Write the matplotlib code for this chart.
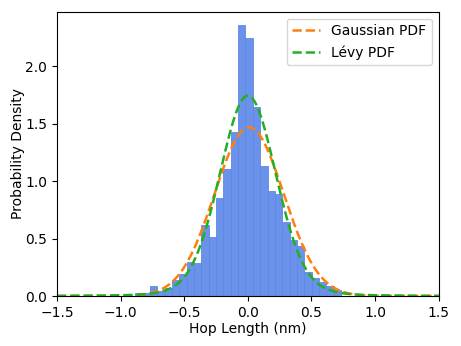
import numpy as np
import matplotlib
matplotlib.use("Agg")
import matplotlib.pyplot as plt

# histogram of hop lengths (density)
bin_start = -0.884
bin_width = 0.0577
density = [0.023, 0.025, 0.088, 0.044, 0.067, 0.14, 0.19, 0.30, 0.29, 0.62,
           0.51, 0.857, 1.11, 1.43, 2.36, 2.245, 1.65, 1.13, 0.915, 0.89,
           0.645, 0.485, 0.44, 0.205, 0.155, 0.125, 0.088, 0.05]

# fitted parameters
gauss_mu = 0.01
gauss_sigma = 0.2714
levy_alpha = 1.85
levy_scale = 0.162
levy_mu = 0.0

edges = bin_start + bin_width * np.arange(len(density) + 1)
x = np.linspace(-1.5, 1.5, 600)

gauss_pdf = np.exp(-0.5 * ((x - gauss_mu) / gauss_sigma) ** 2) / (gauss_sigma * np.sqrt(2 * np.pi))

# symmetric alpha-stable pdf by integrating the characteristic function
t = np.linspace(0, 80, 8001)
phi = np.exp(-(levy_scale * t) ** levy_alpha)
levy_pdf = np.trapezoid(phi[None, :] * np.cos(np.outer(x - levy_mu, t)), t, axis=1) / np.pi

fig = plt.figure(figsize=(4.61, 3.46), dpi=100)
ax = fig.add_axes([0.1236, 0.1445, 0.828, 0.822])

ax.hist(edges[:-1], bins=edges, weights=density, color='#6a92ea',
        edgecolor='#5f88e4', linewidth=0.6)
ax.plot(x, gauss_pdf, '--', color='#ff7f0e', lw=1.8, label='Gaussian PDF')
ax.plot(x, levy_pdf, '--', color='#22b022', lw=1.8, label='Lévy PDF')

ax.set_xlim(-1.5, 1.5)
ax.set_ylim(0, 2.478)
ax.set_xlabel('Hop Length (nm)', labelpad=1.5)
ax.set_ylabel('Probability Density', labelpad=0.5)
ax.set_xticks([-1.5, -1.0, -0.5, 0.0, 0.5, 1.0, 1.5])
ax.set_yticks([0.0, 0.5, 1.0, 1.5, 2.0])
ax.legend(loc='upper right')

fig.savefig('out.png', dpi=100)
